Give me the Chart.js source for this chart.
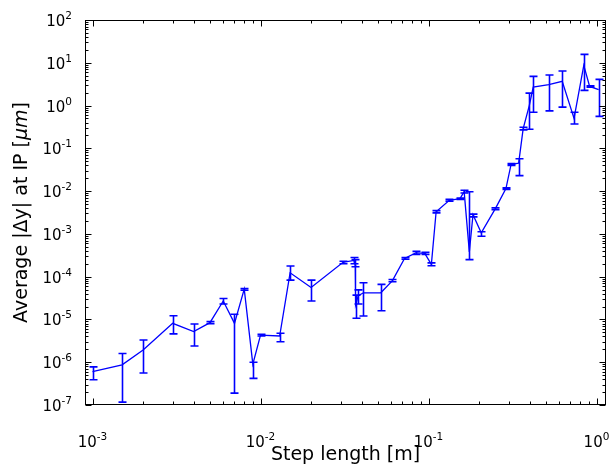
<!DOCTYPE html>
<html>
<head>
<meta charset="utf-8">
<script src="https://cdn.jsdelivr.net/npm/chart.js@4.4.1/dist/chart.umd.min.js"></script>
<style>
html,body{margin:0;padding:0;background:#fff;}
#wrap{width:611px;height:466px;}
</style>
</head>
<body>
<div id="wrap"><canvas id="c" width="611" height="466"></canvas></div>
<script>
// ---- data ----
const stepLength = [0.001, 0.0015, 0.002, 0.003, 0.004, 0.005, 0.006, 0.007, 0.008, 0.009,
  0.010, 0.013, 0.015, 0.020, 0.031, 0.036, 0.0366, 0.0368, 0.0382, 0.041,
  0.052, 0.061, 0.072, 0.084, 0.095, 0.104, 0.111, 0.133, 0.154, 0.163,
  0.175, 0.184, 0.206, 0.250, 0.289, 0.310, 0.344, 0.366, 0.398, 0.420,
  0.52, 0.625, 0.735, 0.84, 0.91, 1.03];
const avgDy = [6.0e-7, 8.7e-7, 1.94e-6, 8.1e-6, 5.2e-6, 8.4e-6, 2.7e-5, 8.1e-6, 5.1e-5, 9.0e-7,
  4.3e-6, 4.1e-6, 1.23e-4, 5.6e-5, 2.16e-4, 2.4e-4, 1.85e-4, 2.2e-5, 3.6e-5, 4.2e-5,
  4.2e-5, 8.1e-5, 2.67e-4, 3.6e-4, 3.5e-4, 1.94e-4, 3.3e-3, 6.1e-3, 6.65e-3, 9.7e-3,
  3.8e-4, 2.8e-3, 1.06e-3, 3.9e-3, 1.15e-2, 4.2e-2, 4.5e-2, 0.29, 1.0, 2.7,
  3.1, 3.7, 0.5, 8.7, 2.8, 2.35];
const errLow = [3.9e-7, 1.17e-7, 5.6e-7, 4.6e-6, 2.4e-6, 7.9e-6, 2.3e-5, 1.9e-7, 4.8e-5, 4.2e-7,
  4.1e-6, 3.0e-6, 8.3e-5, 2.7e-5, 2.0e-4, 2.0e-4, 1.7e-4, 1.07e-5, 2.3e-5, 1.2e-5,
  1.6e-5, 7.6e-5, 2.55e-4, 3.3e-4, 3.3e-4, 1.8e-4, 3.1e-3, 5.8e-3, 6.4e-3, 9.0e-3,
  2.5e-4, 2.5e-3, 8.8e-4, 3.7e-3, 1.1e-2, 4.0e-2, 2.3e-2, 0.27, 0.28, 0.70,
  0.75, 0.92, 0.37, 2.26, 2.7, 0.56];
const errHigh = [7.8e-7, 1.6e-6, 3.3e-6, 1.22e-5, 7.8e-6, 8.9e-6, 3.1e-5, 1.32e-5, 5.3e-5, 1.0e-6,
  4.5e-6, 4.75e-6, 1.77e-4, 8.3e-5, 2.3e-4, 2.8e-4, 2.5e-4, 3.7e-5, 4.9e-5, 7.2e-5,
  6.6e-5, 8.6e-5, 2.8e-4, 3.9e-4, 3.7e-4, 2.1e-4, 3.5e-3, 6.4e-3, 6.9e-3, 1.05e-2,
  9.7e-3, 2.9e-3, 1.12e-3, 4.1e-3, 1.2e-2, 4.4e-2, 5.7e-2, 0.31, 1.95, 4.8,
  5.2, 6.4, 0.70, 15.7, 2.9, 4.1];
const xTickExponents = [-3, -2, -1, 0];
const yTickExponents = [-7, -6, -5, -4, -3, -2, -1, 0, 1, 2];
const xTitle = 'Step length [m]';
const yTitleParts = ['Average |Δy| at IP [', 'μm', ']'];

const BLUE = '#0000ff';
const FONT = '"DejaVu Sans", sans-serif';

const decor = {
  id: 'decor',
  afterDatasetsDraw(chart) {
    const ctx = chart.ctx, xs = chart.scales.x, ys = chart.scales.y, a = chart.chartArea;
    // error bars
    ctx.save();
    ctx.beginPath(); ctx.rect(a.left, a.top, a.right - a.left, a.bottom - a.top); ctx.clip();
    ctx.strokeStyle = BLUE; ctx.lineWidth = 1.6;
    for (let i = 0; i < stepLength.length; i++) {
      const px = Math.round(xs.getPixelForValue(stepLength[i])) + 0.5;
      const p1 = ys.getPixelForValue(errLow[i]);
      const p2 = ys.getPixelForValue(errHigh[i]);
      ctx.beginPath();
      ctx.moveTo(px, p1); ctx.lineTo(px, p2);
      ctx.moveTo(px - 4, p1); ctx.lineTo(px + 4, p1);
      ctx.moveTo(px - 4, p2); ctx.lineTo(px + 4, p2);
      ctx.stroke();
    }
    ctx.restore();

    // frame
    ctx.save();
    ctx.strokeStyle = '#000'; ctx.lineWidth = 1;
    const L = Math.round(a.left) + 0.5, R = Math.round(a.right) - 0.5, T = Math.round(a.top) + 0.5, B = Math.round(a.bottom) - 0.5;
    ctx.strokeRect(L, T, R - L, B - T);
    // ticks (inward, all four sides)
    ctx.beginPath();
    const xMin = xs.min, xMax = xs.max, yMin = ys.min, yMax = ys.max;
    for (let e = -4; e <= 1; e++) {
      for (let m = 1; m <= 9; m++) {
        const v = m * Math.pow(10, e);
        const len = (m === 1) ? 6 : 3;
        if (v >= xMin * 0.9999 && v <= xMax * 1.0001) {
          const px = Math.round(xs.getPixelForValue(v)) + 0.5;
          ctx.moveTo(px, B); ctx.lineTo(px, B - len);
          ctx.moveTo(px, T); ctx.lineTo(px, T + len);
        }
      }
    }
    for (let e = -8; e <= 2; e++) {
      for (let m = 1; m <= 9; m++) {
        const v = m * Math.pow(10, e);
        const len = (m === 1) ? 6 : 3;
        if (v >= yMin * 0.9999 && v <= yMax * 1.0001) {
          const py = Math.round(ys.getPixelForValue(v)) + 0.5;
          ctx.moveTo(L, py); ctx.lineTo(L + len, py);
          ctx.moveTo(R, py); ctx.lineTo(R - len, py);
        }
      }
    }
    ctx.stroke();

    // tick labels
    ctx.fillStyle = '#000';
    const base = '15px ' + FONT, sup = '10.5px ' + FONT;
    ctx.textBaseline = 'alphabetic';
    ctx.textAlign = 'left';
    for (const e of yTickExponents) {
      const py = ys.getPixelForValue(Math.pow(10, e));
      ctx.font = sup; const ws = ctx.measureText(String(e)).width;
      const right = a.left - 13;
      ctx.font = base; const wb = ctx.measureText('10').width;
      ctx.fillText('10', right - ws - wb, py + 6);
      ctx.font = sup;
      ctx.fillText(String(e), right - ws, py - 1);
    }
    for (const e of xTickExponents) {
      const px = xs.getPixelForValue(Math.pow(10, e));
      ctx.font = sup; const ws = ctx.measureText(String(e)).width;
      ctx.font = base; const wb = ctx.measureText('10').width;
      const start = px - (ws + wb) / 2;
      ctx.fillText('10', start, a.bottom + 42);
      ctx.font = sup;
      ctx.fillText(String(e), start + wb, a.bottom + 35);
    }

    // axis titles
    ctx.font = '19px ' + FONT;
    ctx.textAlign = 'center';
    ctx.textBaseline = 'middle';
    ctx.fillText(xTitle, (a.left + a.right) / 2, 455);

    ctx.save();
    ctx.translate(22, (a.top + a.bottom) / 2);
    ctx.rotate(-Math.PI / 2);
    const fonts = ['19px ' + FONT, 'italic 19px ' + FONT, '19px ' + FONT];
    let total = 0; const widths = [];
    for (let i = 0; i < 3; i++) { ctx.font = fonts[i]; const w = ctx.measureText(yTitleParts[i]).width; widths.push(w); total += w; }
    let x0 = -total / 2;
    ctx.textAlign = 'left';
    for (let i = 0; i < 3; i++) { ctx.font = fonts[i]; ctx.fillText(yTitleParts[i], x0, 0); x0 += widths[i]; }
    ctx.restore();
    ctx.restore();
  }
};

new Chart(document.getElementById('c'), {
  type: 'scatter',
  data: {
    datasets: [{
      data: stepLength.map((x, i) => ({ x: x, y: avgDy[i] })),
      showLine: true,
      borderColor: BLUE,
      backgroundColor: BLUE,
      borderWidth: 1.3,
      pointRadius: 0,
      tension: 0,
      fill: false
    }]
  },
  options: {
    responsive: false,
    animation: false,
    devicePixelRatio: 1,
    layout: { padding: { left: 85, right: 5, top: 20, bottom: 61 } },
    plugins: { legend: { display: false }, tooltip: { enabled: false }, title: { display: false } },
    scales: {
      x: { type: 'logarithmic', min: 9.02e-4, max: 1.139, display: false },
      y: { type: 'logarithmic', min: 1e-7, max: 1e2, display: false }
    }
  },
  plugins: [decor]
});
</script>
</body>
</html>
